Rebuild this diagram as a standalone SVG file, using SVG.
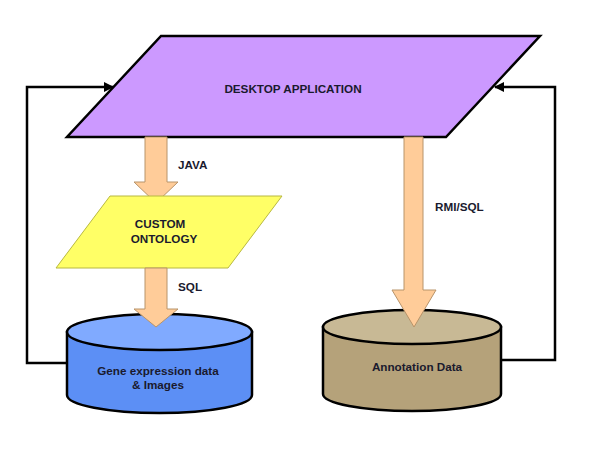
<svg xmlns="http://www.w3.org/2000/svg" width="600" height="450" viewBox="0 0 600 450">
<defs>
<style>
.lbl{font-family:"Liberation Sans",Arial,sans-serif;font-weight:bold;font-size:11.7px;fill:#1a1a2e}
.txt{font-family:"Liberation Sans",Arial,sans-serif;font-weight:bold;font-size:11.7px;fill:#1a1a2e;text-anchor:middle}
.conn{fill:none;stroke:#000;stroke-width:2.5}
.big{fill:#FFCC99;stroke:#B8946A;stroke-width:1}
</style>
<marker id="ah" markerWidth="10" markerHeight="10" refX="9" refY="5" orient="auto" markerUnits="userSpaceOnUse">
<path d="M0,0 L10,5 L0,10 z" fill="#000"/>
</marker>
</defs>
<rect width="600" height="450" fill="#fff"/>
<g id="connectors">
<polyline class="conn" points="67,363 27,363 27,87 113,87" marker-end="url(#ah)"/>
<polyline class="conn" points="501,360 555,360 555,87 495,87" marker-end="url(#ah)"/>
</g>
<g id="desktop">
<polygon points="161,36 540,36 446,137 67,137" fill="#CC99FF" stroke="#000" stroke-width="2.5"/>
<text class="txt" x="293" y="93">DESKTOP APPLICATION</text>
</g>
<g id="gene">
<path d="M67,332 L67,395 A92.5,18 0 0 0 252,395 L252,332 Z" fill="#5C8FF5" stroke="#000" stroke-width="2.5"/>
<ellipse cx="159.5" cy="332" rx="92.5" ry="18" fill="#80AAFF" stroke="#000" stroke-width="2.5"/>
<text class="txt" x="158" y="375">Gene expression data</text>
<text class="txt" x="158" y="389">&amp; Images</text>
</g>
<g id="annotation">
<path d="M323,327 L323,394 A89,17 0 0 0 501,394 L501,327 Z" fill="#B5A27A" stroke="#000" stroke-width="2.5"/>
<ellipse cx="412" cy="327" rx="89" ry="17" fill="#C8B995" stroke="#000" stroke-width="2.5"/>
<text class="txt" x="417" y="371">Annotation Data</text>
</g>
<g id="java-arrow">
<polygon class="big" points="145,137 167,137 167,182 178,182 156,203 134,182 145,182"/>
<text class="lbl" x="178" y="169">JAVA</text>
</g>
<g id="ontology">
<polygon points="110,196 282,196 228,268 56,268" fill="#FFFF66" stroke="#B8B840" stroke-width="1"/>
<text class="txt" x="160" y="228">CUSTOM</text>
<text class="txt" x="164" y="243">ONTOLOGY</text>
</g>
<g id="sql-arrow">
<polygon class="big" points="145,268 167,268 167,309 178,309 156,327 134,309 145,309"/>
<text class="lbl" x="178" y="291">SQL</text>
</g>
<g id="rmi-arrow">
<polygon class="big" points="404,137 423,137 423,290 436,290 414,327 392,290 404,290"/>
<text class="lbl" x="435" y="211">RMI/SQL</text>
</g>
</svg>
